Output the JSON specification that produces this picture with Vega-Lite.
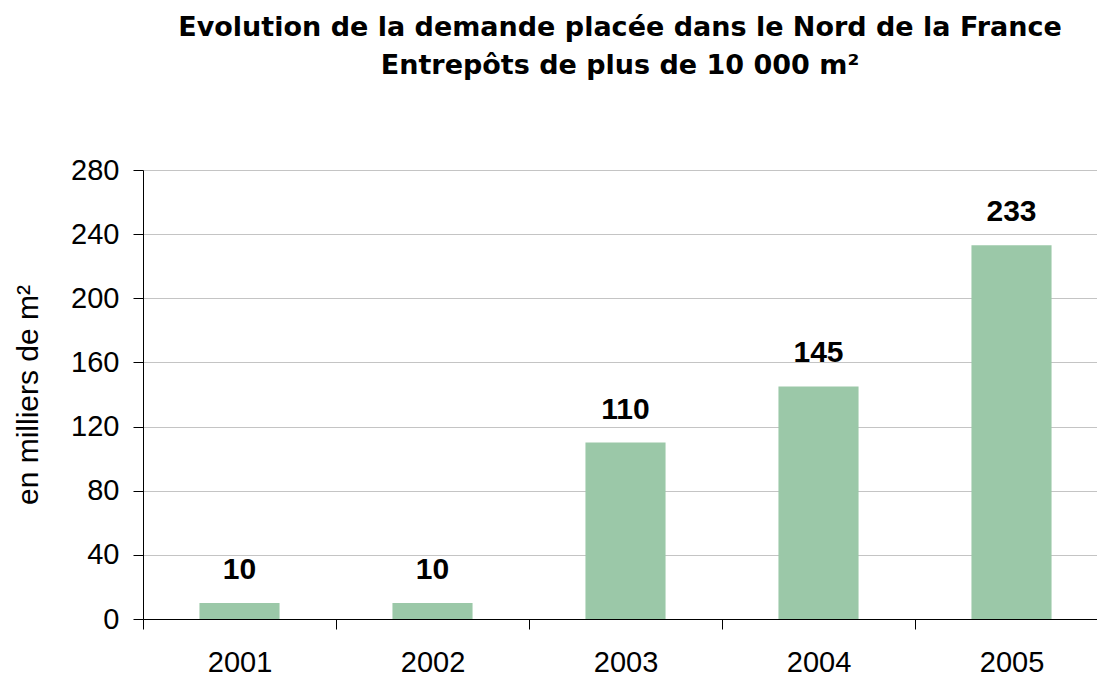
{
  "$schema": "https://vega.github.io/schema/vega-lite/v6.json",
  "autosize": "none",
  "width": 954,
  "height": 449,
  "padding": {"left": 143, "top": 170, "right": 0, "bottom": 59},
  "background": "white",
  "title": {
    "text": ["Evolution de la demande placée dans le Nord de la France", "Entrepôts de plus de 10 000 m²"],
    "font": "DejaVu Sans",
    "fontSize": 27,
    "fontWeight": "bold",
    "color": "black",
    "lineHeight": 38,
    "frame": "group",
    "anchor": "middle",
    "offset": 76
  },
  "data": {
    "values": [
      {"year": "2001", "value": 10},
      {"year": "2002", "value": 10},
      {"year": "2003", "value": 110},
      {"year": "2004", "value": 145},
      {"year": "2005", "value": 233}
    ]
  },
  "config": {
    "view": {"stroke": null},
    "font": "Liberation Sans"
  },
  "encoding": {
    "x": {
      "field": "year",
      "type": "nominal",
      "sort": null,
      "scale": {"range": [0, 965], "paddingInner": 0, "paddingOuter": 0},
      "axis": {
        "title": null,
        "labelAngle": 0,
        "labelFont": "Liberation Sans",
        "labelFontSize": 29,
        "labelColor": "black",
        "labelPadding": 19,
        "tickBand": "extent",
        "tickSize": 10,
        "tickColor": "black",
        "domainColor": "black",
        "grid": false
      }
    },
    "y": {
      "field": "value",
      "type": "quantitative",
      "scale": {"domain": [0, 280], "nice": false},
      "axis": {
        "title": "en milliers de m²",
        "titleFont": "Liberation Sans",
        "titleFontSize": 30,
        "titleFontWeight": "normal",
        "titleColor": "black",
        "titlePadding": 27,
        "values": [0, 40, 80, 120, 160, 200, 240, 280],
        "labelFont": "Liberation Sans",
        "labelFontSize": 29,
        "labelColor": "black",
        "labelPadding": 14,
        "tickSize": 10,
        "tickColor": "black",
        "domainColor": "black",
        "gridColor": "#c4c4c4",
        "gridWidth": 1.2
      }
    }
  },
  "layer": [
    {"mark": {"type": "bar", "color": "#9bc8a8", "width": {"band": 0.415}}},
    {
      "mark": {"type": "text", "baseline": "alphabetic", "dy": -24, "font": "Liberation Sans", "fontSize": 30, "fontWeight": "bold", "color": "black"},
      "encoding": {"text": {"field": "value", "type": "quantitative"}}
    }
  ]
}
